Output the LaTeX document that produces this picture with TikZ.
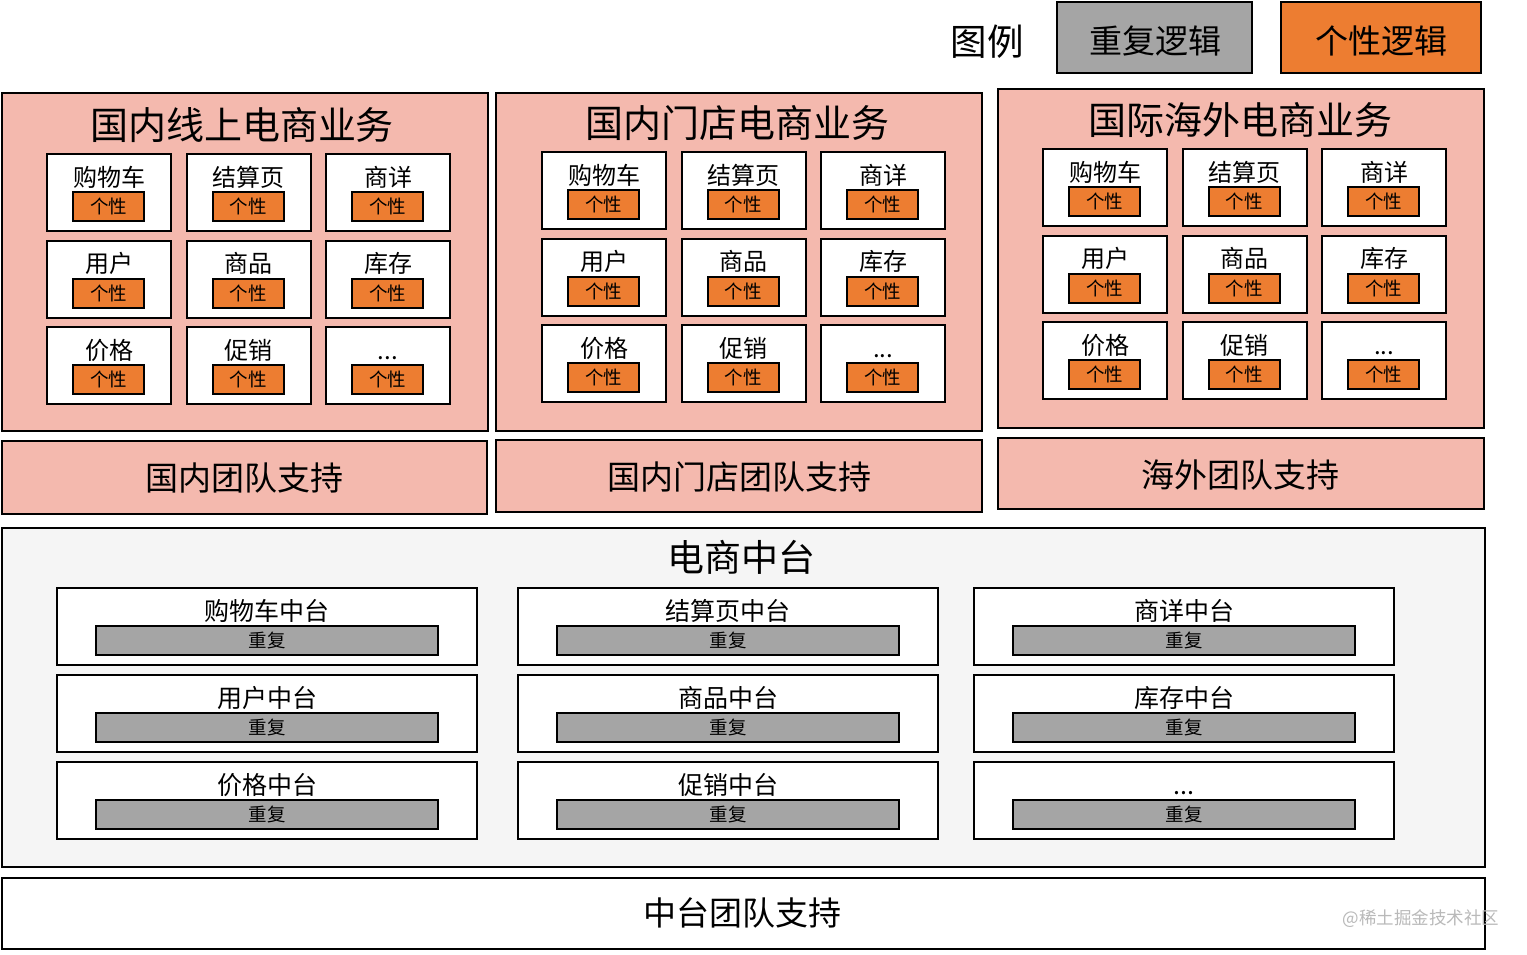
\documentclass[tikz,border=0pt]{standalone}
\usepackage{fontspec}
\setmainfont{Noto Sans CJK SC}
\newcommand\threedots{...}
\newcommand\fsz[1]{\fontsize{#1}{#1}\selectfont}
\definecolor{pinkbg}{RGB}{244,185,174}
\definecolor{orng}{RGB}{237,125,49}
\definecolor{grayb}{RGB}{165,165,165}
\definecolor{platbg}{RGB}{245,245,245}
\definecolor{wmark}{RGB}{185,185,185}
\newcommand\rbx[6]{\node[#2, minimum width={(#5)-(#3)}, minimum height={(#6)-(#4)}] (#1) at (#3,#4) {};}
\tikzset{
  rbox/.style={draw=black, rectangle, inner sep=0pt, outer sep=0pt, anchor=north west},
  panel/.style={rbox, fill=pinkbg, line width=2.8pt},
  team/.style={rbox, fill=pinkbg, line width=2.5pt},
  cell/.style={rbox, fill=white, line width=2pt},
  mcell/.style={rbox, fill=white, line width=2.2pt},
  obox/.style={rbox, fill=orng, line width=2pt},
  gbox/.style={rbox, fill=grayb, line width=2pt},
  plat/.style={rbox, fill=platbg, line width=2.8pt},
  bottombox/.style={rbox, fill=white, line width=2.5pt},
  txt/.style={inner sep=0pt, outer sep=0pt, anchor=base, text=black},
  fs/.style={font=\fsz{#1}},
}
\begin{document}
\begin{tikzpicture}[x=1pt,y=-1pt]
\useasboundingbox (0,0) rectangle (1527,954);
\fill[white] (0,0) rectangle (1527,954);

% legend
\node[txt,fs=36.5] (legend) at (987,55) {图例};
\rbx{leggray}{gbox}{1057}{2}{1252}{73}
\node[txt,fs=33] (leggraytxt) at (1155,53) {重复逻辑};
\rbx{legorange}{obox}{1281}{2}{1481}{73}
\node[txt,fs=33] (legorangetxt) at (1381,53) {个性逻辑};

% business panels
\foreach \p/\xa/\ya/\xb/\yb/\cx/\cy/\tx/\ty/\ttl in {
  1/2/93/488/431/47/154/242/139.5/国内线上电商业务,
  2/496/93/982/431/542/152/737/137.5/国内门店电商业务,
  3/998/89/1484/428/1043/149/1240/134.5/国际海外电商业务}{
  \rbx{panel\p}{panel}{\xa}{\ya}{\xb}{\yb}
  \node[txt,fs=38] (title\p) at (\tx,\ty) {\ttl};
  \foreach \lab [count=\i from 0] in {购物车,结算页,商详,用户,商品,库存,价格,促销,\threedots}{
    \pgfmathtruncatemacro\r{\i/3}
    \pgfmathtruncatemacro\c{mod(\i,3)}
    \pgfmathsetmacro\x{\cx+139.5*\c}
    \pgfmathsetmacro\y{\cy+86.5*\r}
    \rbx{p\p c\i}{cell}{\x}{\y}{\x+124}{\y+77}
    \rbx{p\p o\i}{obox}{\x+26}{\y+38}{\x+97}{\y+67}
    \node[txt,fs=24] (p\p l\i) at (\x+62,\y+32) {\lab};
    \node[txt,fs=18.5] (p\p t\i) at (\x+61.5,\y+59.5) {个性};
  }
}

% team support boxes
\foreach \t/\xa/\ya/\xb/\yb/\tx/\ty/\ttl in {
  1/2/441/487/514/244/490.5/国内团队支持,
  2/496/440/982/512/739/489/国内门店团队支持,
  3/998/438/1484/509/1240/487/海外团队支持}{
  \rbx{team\t}{team}{\xa}{\ya}{\xb}{\yb}
  \node[txt,fs=33] (teamtxt\t) at (\tx,\ty) {\ttl};
}

% middle platform
\rbx{platform}{plat}{2}{528}{1485}{867}
\node[txt,fs=37] (plattitle) at (741,571) {电商中台};
\foreach \lab [count=\i from 0] in {购物车中台,结算页中台,商详中台,用户中台,商品中台,库存中台,价格中台,促销中台,\threedots}{
  \pgfmathtruncatemacro\r{\i/3}
  \pgfmathtruncatemacro\c{mod(\i,3)}
  \pgfmathsetmacro\x{\c==0 ? 57 : (\c==1 ? 518 : 974)}
  \pgfmathsetmacro\y{588+87*\r}
  \rbx{m\i}{mcell}{\x}{\y}{\x+420}{\y+77}
  \rbx{mg\i}{gbox}{\x+39}{\y+38}{\x+381}{\y+67}
  \node[txt,fs=25] (ml\i) at (\x+210,\y+32.5) {\lab};
  \node[txt,fs=18.5] (mt\i) at (\x+210,\y+59.5) {重复};
}

% bottom team
\rbx{bottom}{bottombox}{2}{878}{1485}{949}
\node[txt,fs=33] (bottomtxt) at (742,925.5) {中台团队支持};

% watermark
\node[txt,fs=17.5,text=wmark] (watermark) at (1421,924.5) {@稀土掘金技术社区};
\end{tikzpicture}
\end{document}
